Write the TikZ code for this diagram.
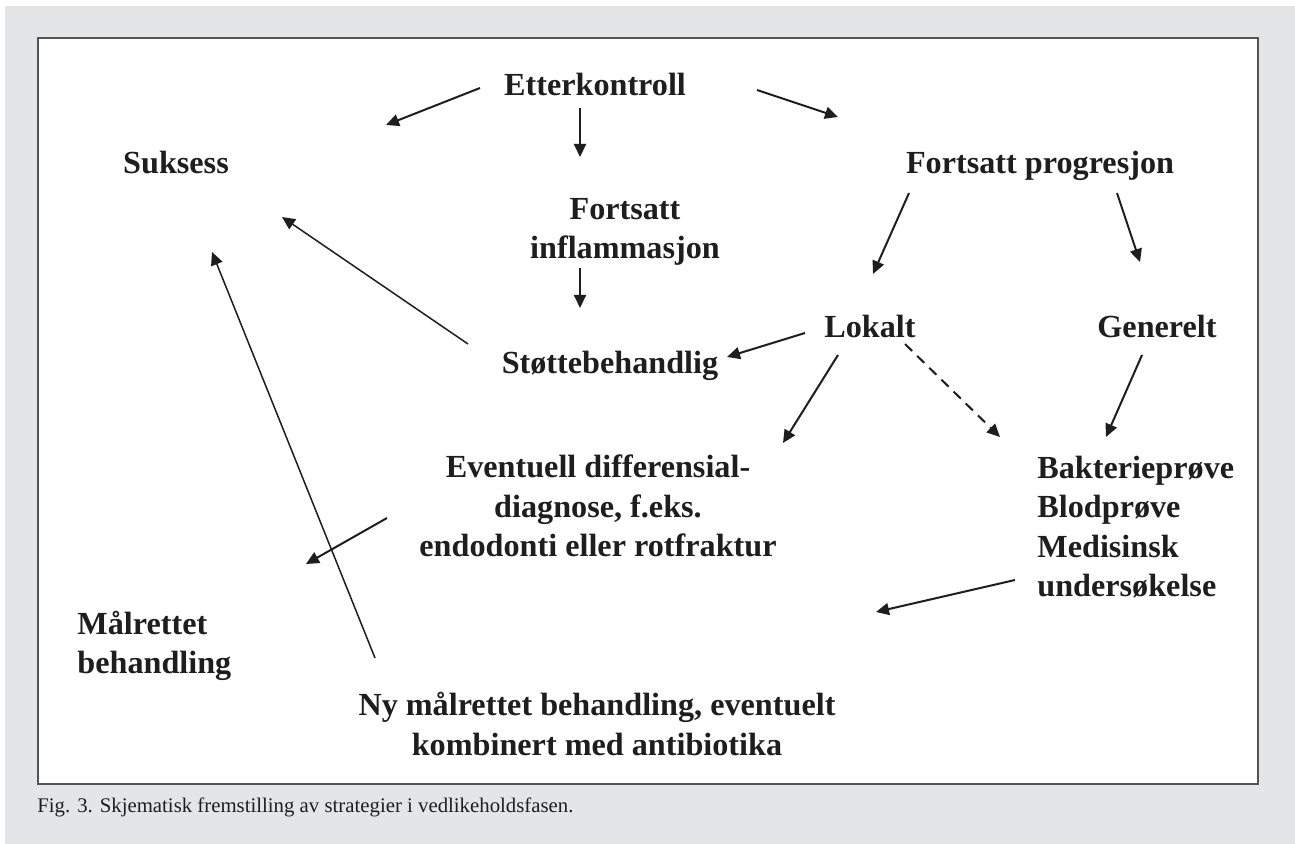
\documentclass[tikz,border=0pt]{standalone}
\usepackage{fontspec}
\setmainfont{Liberation Serif}
\usetikzlibrary{arrows.meta}
\definecolor{pagegray}{RGB}{228,229,231}
\definecolor{framegray}{RGB}{85,85,85}
\definecolor{inkblack}{RGB}{30,30,30}
\tikzset{
  lbl/.style={font=\fontsize{16.1}{19.7}\selectfont\bfseries, text=inkblack, inner sep=0pt, align=center},
  arr/.style={-{Triangle[length=6.5pt,width=6pt]}, line width=1pt, draw=inkblack},
  thinarr/.style={arr, line width=0.75pt},
  dasharr/.style={arr, dash pattern=on 5pt off 3.5pt},
}
\begin{document}
\begin{tikzpicture}[x=0.5pt, y=-0.5pt]
	% page and frame
	\fill[white] (0,0) rectangle (1295,844);
	\fill[pagegray] (5,6) rectangle (1295,844);
	\draw[framegray, line width=1pt, fill=white] (38,38) rectangle (1258,784);

	\node[lbl] at (595, 84) (etter) {Etterkontroll};
	\node[lbl] at (176, 163) (suksess) {Suksess};
	\node[lbl] at (1040, 166) (progr) {Fortsatt progresjon};
	\node[lbl] at (625, 232) (inflam) {Fortsatt\\inflammasjon};
	\node[lbl] at (870, 326) (lokalt) {Lokalt};
	\node[lbl] at (1157, 326) (generelt) {Generelt};
	\node[lbl] at (610, 366) (stotte) {Støttebehandlig};
	\node[lbl] at (598, 506) (differ) {Eventuell differensial-\\diagnose, f.eks.\\endodonti eller rotfraktur};
	\node[lbl, anchor=west, align=left] at (1037, 527) (prove) {Bakterieprøve\\Blodprøve\\Medisinsk\\undersøkelse};
	\node[lbl, anchor=west, align=left] at (77, 646) (malrettet) {Målrettet\\behandling};
	\node[lbl] at (597, 724) (ny) {Ny målrettet behandling, eventuelt\\kombinert med antibiotika};

	\node[anchor=base west, inner sep=0pt, text=inkblack, font=\fontsize{10.4}{12}\selectfont] at (37, 812) (caption) {Fig. 3. Skjematisk fremstilling av strategier i vedlikeholdsfasen.};

	% arrows
	\draw[arr] ([shift={(-115,4)}]etter.center) -- ([shift={(210,-38)}]suksess.center);
	\draw[arr] ([shift={(-15,24)}]etter.center) -- ([shift={(-45,-75)}]inflam.center);
	\draw[arr] ([shift={(162,6)}]etter.center) -- ([shift={(-202,-49)}]progr.center);
	\draw[arr] ([shift={(-131,27)}]progr.center) -- ([shift={(3,-52)}]lokalt.center);
	\draw[arr] ([shift={(77,27)}]progr.center) -- ([shift={(-17,-64)}]generelt.center);
	\draw[arr] ([shift={(-45,36)}]inflam.center) -- ([shift={(-30,-58)}]stotte.center);
	\draw[arr] ([shift={(-65,7)}]lokalt.center) -- ([shift={(117,-9)}]stotte.center);
	\draw[thinarr] ([shift={(-142,-22)}]stotte.center) -- ([shift={(106,54)}]suksess.center);
	\draw[arr] ([shift={(-32,29)}]lokalt.center) -- ([shift={(185,-63)}]differ.center);
	\draw[dasharr] ([shift={(35,18)}]lokalt.center) -- ([shift={(-37,-90)}]prove.west);
	\draw[arr] ([shift={(-15,29)}]generelt.center) -- ([shift={(69,-90)}]prove.west);
	\draw[arr] ([shift={(-211,12)}]differ.center) -- ([shift={(229,-82)}]malrettet.west);
	\draw[thinarr] ([shift={(-222,-66)}]ny.center) -- ([shift={(36,89)}]suksess.center);
	\draw[arr] ([shift={(-22,53)}]prove.west) -- ([shift={(279,-112)}]ny.center);
\end{tikzpicture}
\end{document}
